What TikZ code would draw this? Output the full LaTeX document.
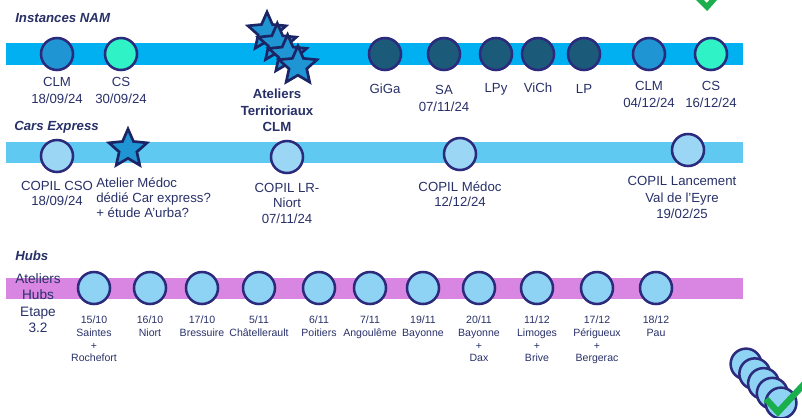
\documentclass[tikz,border=0pt]{standalone}
\usepackage{fontspec}
\setmainfont{Liberation Sans}
\usetikzlibrary{shapes.geometric}

\definecolor{navy}{HTML}{2C2A7C}
\definecolor{starline}{HTML}{1B2566}
\definecolor{txt}{HTML}{283068}
\definecolor{bandA}{HTML}{00B0F0}
\definecolor{bandB}{HTML}{60C9F1}
\definecolor{bandC}{HTML}{D886E1}
\definecolor{midblue}{HTML}{2095D3}
\definecolor{aqua}{HTML}{2FF2C6}
\definecolor{darkteal}{HTML}{1B5B79}
\definecolor{paleblue}{HTML}{9BD7F5}
\definecolor{hubblue}{HTML}{8FD3F4}
\definecolor{okgreen}{HTML}{1AAE4C}

\tikzset{
    jalon/.style = {circle, draw=navy, line width=1.8pt, minimum size=0.8cm, inner sep=0pt},
    etoile/.style = {star, star points=5, star point ratio=2.15, draw=starline, line width=1.9pt, fill=midblue, minimum size=1.0cm, inner sep=0pt},
    lbl/.style = {text=txt, align=center, anchor=north, inner sep=0pt, font=\fontsize{9.4}{12}\selectfont},
    hublbl/.style = {text=txt, align=center, anchor=north, inner sep=0pt, font=\fontsize{7.5}{9}\selectfont},
    titre/.style = {text=txt, anchor=west, inner sep=0pt, font=\fontsize{9.4}{11}\selectfont\bfseries\itshape}
}

\begin{document}
\begin{tikzpicture}[x=0.025cm, y=-0.025cm]
    \useasboundingbox (0,0) rectangle (802,417);
    \fill[bandA] (6,43) rectangle (743,65);
    \fill[bandB] (6,142) rectangle (743,163);
    \fill[bandC] (6,278) rectangle (743,299);

    \node[titre] (tnam) at (15,18) {Instances NAM};
    \node[titre] (tcars) at (14,127) {Cars Express};
    \node[titre] (thubs) at (15,256) {Hubs};

    % Instances NAM
    \foreach \x/\c/\n in {57/midblue/clm1, 121/aqua/cs1, 385/darkteal/giga, 444/darkteal/sa, 496/darkteal/lpy, 538/darkteal/vich, 584/darkteal/lp, 649/midblue/clm2, 711/aqua/cs2}
        {
        \node[jalon, fill=\c] (\n) at (\x,54) {};
        }
    \foreach \i in {0,...,3}
        {
        \node[etoile] (at\i) at (267+10.3*\i, 32+11.3*\i) {};
        }
    \node[lbl] (lclm1) at (57,77) {CLM\\18/09/24};
    \node[lbl] (lcs1) at (121,77) {CS\\30/09/24};
    \node[lbl, font=\fontsize{9.4}{11.7}\selectfont\bfseries] (lat) at (277,89) {Ateliers\\Territoriaux\\CLM};
    \node[lbl] (lgiga) at (385,84) {GiGa};
    \node[lbl] (lsa) at (444,85) {SA\\07/11/24};
    \node[lbl] (llpy) at (496,83) {LPy};
    \node[lbl] (lvich) at (538,83) {ViCh};
    \node[lbl] (llp) at (584,84) {LP};
    \node[lbl] (lclm2) at (649,81) {CLM\\04/12/24};
    \node[lbl] (lcs2) at (711,81) {CS\\16/12/24};

    % Cars Express
    \node[jalon, fill=paleblue] (cso) at (57,156) {};
    \node[etoile] (medoc) at (128,149) {};
    \node[jalon, fill=paleblue] (lrn) at (287,157) {};
    \node[jalon, fill=paleblue] (cmed) at (460,154) {};
    \node[jalon, fill=paleblue] (lanc) at (688,150) {};
    \node[lbl, font=\fontsize{9.4}{11}\selectfont] (lcso) at (57,181) {COPIL CSO\\18/09/24};
    \node[lbl, font=\fontsize{9.4}{11}\selectfont, align=left, anchor=north west] (lmedoc) at (96,177) {Atelier Médoc\\dédié Car express?\\+ étude A’urba?};
    \node[lbl, font=\fontsize{9.4}{11}\selectfont] (llrn) at (287,183) {COPIL LR-\\Niort\\07/11/24};
    \node[lbl, font=\fontsize{9.4}{11}\selectfont] (lcmed) at (460,181) {COPIL Médoc\\12/12/24};
    \node[lbl, font=\fontsize{9.4}{11.8}\selectfont] (llanc) at (682,176) {COPIL Lancement\\Val de l’Eyre\\19/02/25};

    % Hubs
    \node[lbl, font=\fontsize{9.7}{11.8}\selectfont] (lhubs) at (38,273) {Ateliers\\Hubs\\Etape\\3.2};
    \foreach \x [count=\i] in {94,150,202,259,319,370,423,479,537,597,656}
        {
        \node[jalon, fill=hubblue] (hub\i) at (\x,288) {};
        }
    \node[hublbl] (lhub1) at (94,316) {15/10\\Saintes\\+\\Rochefort};
    \node[hublbl] (lhub2) at (150,316) {16/10\\Niort};
    \node[hublbl] (lhub3) at (202,316) {17/10\\Bressuire};
    \node[hublbl] (lhub4) at (259,316) {5/11\\Châtellerault};
    \node[hublbl] (lhub5) at (319,316) {6/11\\Poitiers};
    \node[hublbl] (lhub6) at (370,316) {7/11\\Angoulême};
    \node[hublbl] (lhub7) at (423,316) {19/11\\Bayonne};
    \node[hublbl] (lhub8) at (479,316) {20/11\\Bayonne\\+\\Dax};
    \node[hublbl] (lhub9) at (537,316) {11/12\\Limoges\\+\\Brive};
    \node[hublbl] (lhub10) at (597,316) {17/12\\Périgueux\\+\\Bergerac};
    \node[hublbl] (lhub11) at (656,316) {18/12\\Pau};

    \begin{scope}
        \clip (0,0) rectangle (802,417);
        \foreach \i in {0,...,4}
            {
            \node[jalon, fill=hubblue, minimum size=0.77cm] (pile\i) at (746+8.75*\i, 364+9.75*\i) {};
            }
        \draw[okgreen, line width=4pt] (697,-3) -- (707,7) -- (722,-10);
        \draw[okgreen, line width=4.5pt] (766,399) -- (778,412) -- (806,382);
    \end{scope}
\end{tikzpicture}
\end{document}
